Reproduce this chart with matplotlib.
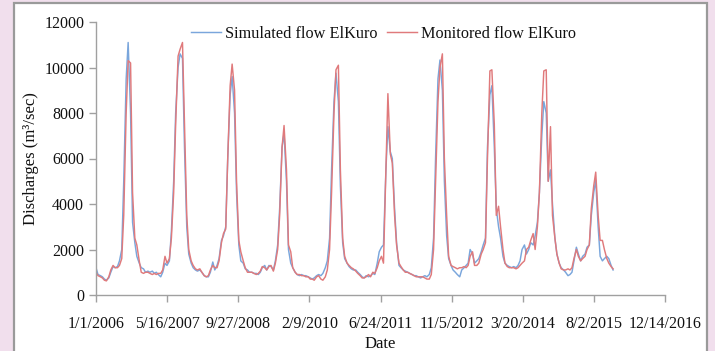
import matplotlib
matplotlib.use("Agg")
import matplotlib.pyplot as plt
import matplotlib.dates as mdates
from matplotlib.patches import Rectangle
import pandas as pd
import datetime as dt

# semi-monthly values, one row per year (2006 ... 2015)
simulated = [
    1200, 900, 850, 800, 700, 650, 750, 1000, 1250, 1200, 1250, 1500, 2000, 5000, 9500, 11100, 8000, 3200, 2300, 1700, 1400, 1200, 1150, 1000,
    1050, 1000, 1050, 950, 1000, 900, 800, 1000, 1400, 1300, 1500, 2800, 5000, 8000, 10000, 10600, 10400, 6500, 3000, 1800, 1400, 1200, 1100, 1050,
    1100, 1000, 850, 800, 800, 1000, 1450, 1100, 1300, 1600, 2400, 2600, 3000, 6000, 8800, 9600, 8000, 4500, 2200, 1500, 1400, 1150, 1100, 1000,
    1000, 950, 950, 900, 1000, 1200, 1300, 1100, 1300, 1250, 1100, 1500, 2200, 3800, 6500, 7100, 5000, 2000, 1400, 1200, 1000, 900, 850, 900,
    850, 850, 800, 750, 700, 750, 850, 900, 850, 950, 1200, 1500, 2500, 5500, 8500, 9750, 8500, 4800, 2300, 1600, 1400, 1250, 1150, 1100,
    1100, 1000, 900, 800, 750, 850, 800, 850, 950, 900, 1400, 1900, 2100, 2200, 5500, 7400, 6300, 6000, 3800, 2300, 1300, 1200, 1100, 1050,
    1000, 950, 900, 850, 850, 800, 750, 800, 850, 800, 900, 1200, 2500, 6000, 9500, 10330, 9000, 5000, 2600, 1600, 1300, 1100, 1000, 900,
    800, 1100, 1200, 1300, 1400, 2000, 1800, 1400, 1500, 1600, 1900, 2200, 2500, 6500, 8800, 9200, 6500, 3800, 3000, 2500, 1700, 1400, 1300, 1250,
    1200, 1250, 1200, 1300, 1500, 2000, 2200, 1800, 2000, 2300, 2200, 2600, 3200, 4500, 7000, 8500, 8000, 5000, 5500, 4000, 2500, 1800, 1400, 1200,
    1100, 1000, 850, 900, 1000, 1500, 2100, 1800, 1500, 1700, 1800, 2100, 2200, 3500, 4500, 5050, 3000, 1700, 1500, 1600, 1700, 1600, 1300, 1100,
]
monitored = [
    1000, 850, 800, 750, 650, 620, 800, 1100, 1300, 1200, 1200, 1300, 1600, 3500, 8000, 10300, 10200, 4500, 2500, 2200, 1500, 1000, 950, 1000,
    1000, 950, 900, 950, 900, 950, 950, 1100, 1700, 1400, 1600, 2500, 4500, 7500, 10500, 10800, 11100, 7500, 3500, 2000, 1500, 1300, 1150, 1100,
    1150, 1000, 850, 800, 850, 1100, 1300, 1200, 1200, 1500, 2300, 2700, 2900, 6000, 9200, 10150, 9000, 5000, 2400, 1900, 1500, 1200, 1000, 1000,
    1000, 950, 900, 950, 1050, 1250, 1200, 1100, 1250, 1300, 1050, 1400, 2000, 3500, 6500, 7450, 5500, 2200, 1900, 1200, 1000, 900, 900, 850,
    850, 800, 800, 700, 700, 650, 800, 850, 700, 650, 800, 1100, 2000, 4500, 8000, 9900, 10100, 5500, 2500, 1700, 1400, 1300, 1200, 1150,
    1050, 950, 850, 750, 750, 800, 900, 800, 1000, 950, 1200, 1500, 1700, 1400, 5500, 8850, 6200, 5800, 3500, 2200, 1400, 1250, 1100, 1000,
    1000, 950, 900, 850, 800, 800, 800, 800, 750, 700, 700, 900, 2000, 5000, 8500, 10000, 10600, 6000, 3500, 1700, 1300, 1250, 1200, 1150,
    1200, 1200, 1250, 1200, 1300, 1700, 1900, 1300, 1300, 1400, 1800, 2000, 2300, 6000, 9850, 9900, 7500, 3500, 3900, 3000, 2000, 1400, 1250, 1200,
    1200, 1200, 1150, 1200, 1300, 1400, 1500, 2000, 2100, 2400, 2700, 2000, 3000, 4500, 8000, 9850, 9900, 5000, 7400, 3500, 2500, 1800, 1400, 1150,
    1100, 1100, 1150, 1100, 1200, 1600, 2000, 1700, 1500, 1600, 1700, 2000, 2200, 3800, 4800, 5400, 3500, 2400, 2400, 2000, 1600, 1400, 1250, 1150,
]
dates = pd.date_range("2006-01-01", periods=len(simulated), freq="SMS")

x_start = dt.date(2006, 1, 1)
x_end = dt.date(2016, 12, 14)
tick_dates = [x_start + dt.timedelta(days=500 * k) for k in range(9)]
tick_labels = [f"{d.month}/{d.day}/{d.year}" for d in tick_dates]

plt.rcParams["font.family"] = ["Liberation Serif", "DejaVu Serif"]
ink = "#111111"

fig = plt.figure(figsize=(7.15, 3.51), dpi=100, facecolor="#f1dfed")
# white chart box with grey border, kept behind the axes
fig.patches.append(Rectangle((14 / 715, -0.05), (707 - 14) / 715, 1.05 - 3.5 / 351,
                             transform=fig.transFigure, facecolor="white",
                             edgecolor="#9a9a9a", lw=1.6, zorder=-5))

ax = fig.add_axes([96 / 715, 1 - 295 / 351, (665 - 96) / 715, (295 - 22) / 351])
ax.set_zorder(2)
ax.set_facecolor("none")

ax.plot(dates, simulated, color="#7aa6dc", lw=1.05, label="Simulated flow ElKuro")
ax.plot(dates, monitored, color="#e07a7c", lw=1.05, label="Monitored flow ElKuro")

ax.set_xlim(mdates.date2num(x_start), mdates.date2num(x_end))
ax.set_ylim(0, 12000)
ax.set_xticks([mdates.date2num(d) for d in tick_dates])
ax.set_xticklabels(tick_labels)
ax.set_yticks(range(0, 12001, 2000))

for s in ("top", "right"):
    ax.spines[s].set_visible(False)
for s in ("left", "bottom"):
    ax.spines[s].set_color("#a0a0a0")
    ax.spines[s].set_linewidth(1.0)
ax.tick_params(axis="both", direction="out", length=5, width=1.0, color="#a0a0a0",
               labelsize=11.5, labelcolor=ink)
ax.tick_params(axis="x", pad=10)

ax.set_xlabel("Date", fontsize=12, color=ink, labelpad=3)
ax.set_ylabel("Discharges (m³/sec)", fontsize=12, color=ink, labelpad=4)

leg = fig.legend(loc="center", bbox_to_anchor=(383.5 / 715, 1 - 34 / 351), ncol=2, frameon=False,
                 fontsize=11.7, handlelength=1.85, handletextpad=0.25, columnspacing=0.6,
                 labelcolor=ink)
leg.set_zorder(3)

fig.savefig("out.png", dpi=100, facecolor=fig.get_facecolor())
